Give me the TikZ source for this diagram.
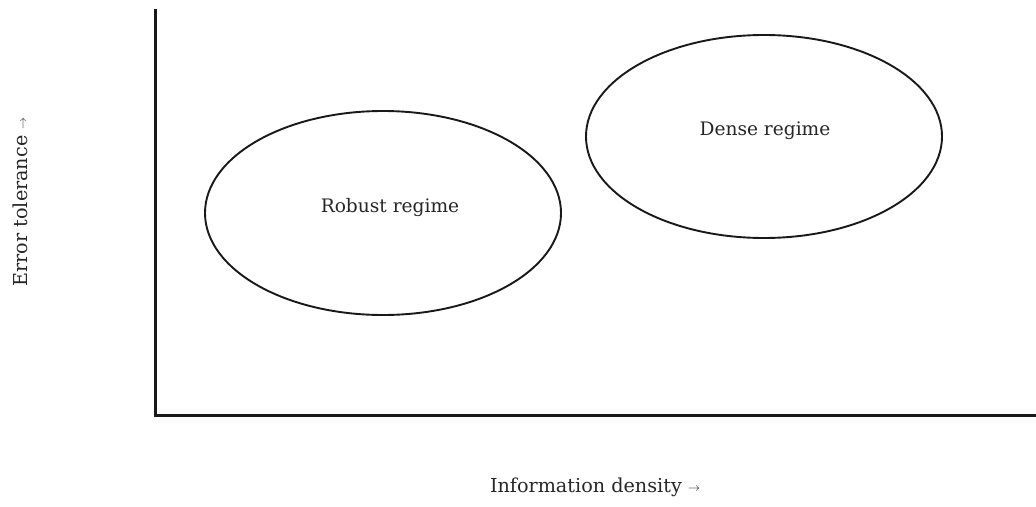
\documentclass[tikz,border=0pt]{standalone}
\usepackage{fontspec}
\setmainfont{DejaVu Serif}
\usetikzlibrary{shapes.geometric}
\tikzset{
  axis/.style={line width=3pt, black!90, line cap=rect},
  regimeline/.style={black!90, line width=1.9pt},
  lbl/.style={font=\fontsize{18.6}{22}\selectfont, text=black!85},
  axlbl/.style={font=\fontsize{19.2}{23}\selectfont, text=black!85},
}
\newcommand{\smallarrow}{\raisebox{0.05em}{\fontsize{12}{13}\selectfont\(\rightarrow\)}}
\begin{document}
\begin{tikzpicture}[x=1pt,y=-1pt]
\useasboundingbox (0,0) rectangle (1036,506);
\coordinate (top) at (155,10);
\coordinate (origin) at (155,415);
\coordinate (right) at (1036,415);
\draw[axis] (top) -- (origin) -- (right);
\draw[regimeline] (383,213) ellipse [x radius=178, y radius=102];
\draw[regimeline] (764,136.5) ellipse [x radius=178, y radius=101.5];
\node[lbl] (robust) at (390,207) {Robust regime};
\node[lbl] (dense) at (765,131) {Dense regime};
\node[axlbl] (xl) at (595,487) {Information density \smallarrow};
\node[axlbl, rotate=90] (yl) at (20,202) {Error tolerance \smallarrow};
\end{tikzpicture}
\end{document}
